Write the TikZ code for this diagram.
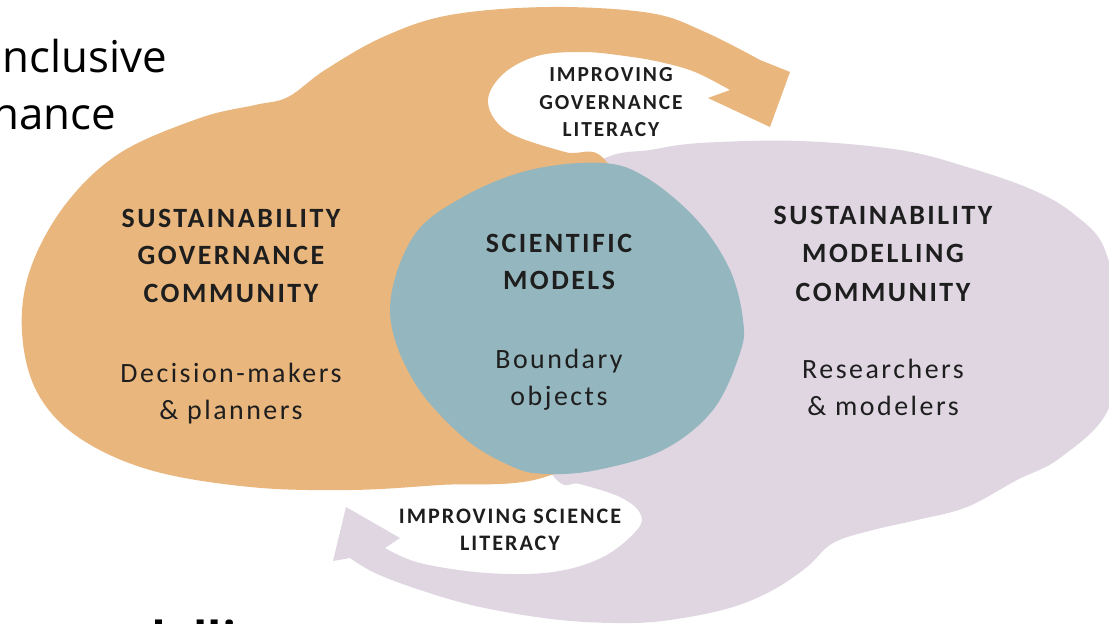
\documentclass[tikz,border=0pt]{standalone}
\usepackage{fontspec}
\setmainfont{Carlito}
\newfontfamily\labfont[LetterSpace=9]{Carlito}
\newfontfamily\slidefont{Open Sans}
\definecolor{orangeblob}{HTML}{E9B67D}
\definecolor{purpleblob}{HTML}{DFD6E2}
\definecolor{tealblob}{HTML}{94B6BE}
\definecolor{txt}{HTML}{1E1E1E}
\tikzset{
  head/.style={font=\labfont\bfseries\fontsize{28}{34}\selectfont, text=txt, inner sep=0pt, anchor=base},
  sub/.style={font=\labfont\fontsize{28}{34}\selectfont, text=txt, inner sep=0pt, anchor=base},
  arrowlabtop/.style={font=\labfont\bfseries\fontsize{21.5}{25}\selectfont, text=txt, inner sep=0pt, anchor=base},
  arrowlabbot/.style={font=\labfont\bfseries\fontsize{22.2}{26}\selectfont, text=txt, inner sep=0pt, anchor=base},
  slide/.style={font=\slidefont\fontsize{44}{52}\selectfont, text=black, inner sep=0pt},
  slidebold/.style={font=\slidefont\bfseries\fontsize{47}{56}\selectfont, text=black, inner sep=0pt}
}
\begin{document}
\begin{tikzpicture}[x=1bp,y=-1bp]
\useasboundingbox (0,0) rectangle (1109,624);
\clip (0,0) rectangle (1109,624);
% purple blob with arrow at bottom
\fill[purpleblob] (346,507) -- (400,538) -- (385,548)
  -- plot[smooth,tension=0.6] coordinates {(385,548) (420,563) (487,573) (553,572) (603,557) (637,530) (640,513) (620,497) (580,484) (555,478) (505,400) (485,300) (530,200) (605,158) (650,150) (700,143) (800,141) (900,150) (967,167) (1033,190) (1075,215) (1105,250) (1120,330) (1108,410) (1060,458) (1017,480) (967,507) (917,520) (873,530) (833,543) (807,567) (773,590) (733,607) (683,618) (633,623) (560,620) (480,607) (420,590) (375,573) (350,558)}
  -- (333,561) -- cycle;
% orange blob with arrow at top
\fill[orangeblob] (770,127) -- (708,98) -- (730,90)
  -- plot[smooth,tension=0.6] coordinates {(730,90) (695,72) (660,62) (625,56) (583,52) (537,56) (502,75) (488,103) (508,132) (565,152) (605,160) (650,250) (640,420) (545,477) (440,485) (350,490) (250,487) (150,470) (78,437) (37,392) (22,332) (30,270) (65,205) (120,153) (200,118) (255,105) (288,97) (325,70) (383,37) (450,15) (550,7) (650,13) (705,32) (760,60)}
  -- (790,72) -- cycle;
% teal overlap
\fill[tealblob] plot[smooth cycle,tension=0.6] coordinates {(390,310) (413,237) (463,197) (530,170) (603,163) (647,178) (697,220) (730,270) (743,320) (740,353) (713,410) (663,450) (597,470) (547,474) (513,467) (463,437) (413,380)};
% slide texts
\node[slide, anchor=base east] (t1) at (167,73) {nclusive};
\node[slide, anchor=base east] (t2) at (116,130) {nance};
\node[slidebold, anchor=base west] (t3) at (136,655) {delli};
% left community
\node[head] (lg1) at (231,228) {SUSTAINABILITY};
\node[head] (lg2) at (231,265) {GOVERNANCE};
\node[head] (lg3) at (231,303) {COMMUNITY};
\node[sub] (ld1) at (231,382) {Decision-makers};
\node[sub] (ld2) at (231,419) {\& planners};
% centre
\node[head] (cg1) at (559,253) {SCIENTIFIC};
\node[head] (cg2) at (559,290) {MODELS};
\node[sub] (cd1) at (559,368) {Boundary};
\node[sub] (cd2) at (559,405) {objects};
% right community
\node[head] (rg1) at (883,225) {SUSTAINABILITY};
\node[head] (rg2) at (883,263) {MODELLING};
\node[head] (rg3) at (883,302) {COMMUNITY};
\node[sub] (rd1) at (883,378) {Researchers};
\node[sub] (rd2) at (883,415) {\& modelers};
% arrow labels
\node[arrowlabtop] (a1) at (611,82) {IMPROVING};
\node[arrowlabtop] (a2) at (611,110) {GOVERNANCE};
\node[arrowlabtop] (a3) at (611,137) {LITERACY};
\node[arrowlabbot] (b1) at (510,523) {IMPROVING SCIENCE};
\node[arrowlabbot] (b2) at (510,550) {LITERACY};
\end{tikzpicture}
\end{document}
